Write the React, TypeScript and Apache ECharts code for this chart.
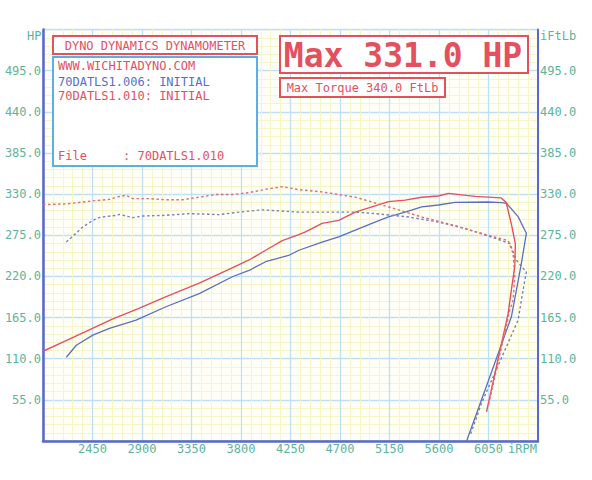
import React, { useEffect, useRef } from "react";
import * as echarts from "echarts";

// ---- Data (read from the dyno sheet) ----
const xTickLabels = ["2450", "2900", "3350", "3800", "4250", "4700", "5150", "5600", "6050"];
const yTickLabels = ["55.0", "110.0", "165.0", "220.0", "275.0", "330.0", "385.0", "440.0", "495.0"];

// Run 70DATLS1.010 (red) power, HP
const hpRedRpm = [2000, 2200, 2450, 2630, 2850, 3120, 3420, 3720, 3873, 4024, 4175, 4326, 4386, 4537, 4688, 4839, 4990, 5141, 5292, 5443, 5594, 5685, 5805, 5926, 6047, 6165, 6210, 6258, 6294, 6289, 6258, 6228, 6130, 6032];
const hpRedVal = [120, 133.5, 150.5, 163, 176, 193, 211, 231.5, 242, 255, 268, 276, 279.5, 291, 295, 306, 313, 320, 322, 325.8, 327.5, 331, 329, 327, 326, 325, 319, 290, 264, 233, 202, 170, 105, 39];

// Run 70DATLS1.006 (blue) power, HP
const hpBlueRpm = [2212, 2303, 2453, 2604, 2846, 3118, 3420, 3721, 3873, 4024, 4233, 4326, 4537, 4688, 4839, 4990, 5141, 5292, 5443, 5594, 5745, 6047, 6168, 6213, 6319, 6394, 6349, 6304, 6258, 6050, 5851];
const hpBlueVal = [112, 128, 141.5, 150.5, 161.5, 179.5, 197, 219.6, 228, 239.7, 248, 255, 266, 273, 282, 291, 299.5, 306, 313, 315.5, 319, 319.5, 318.6, 317.8, 300, 277.7, 237.6, 202, 166, 81, 0];

// Run 70DATLS1.010 (red) torque, FtLb
const tqRedRpm = [2000, 2212, 2453, 2604, 2665, 2755, 2815, 2967, 3118, 3269, 3420, 3571, 3721, 3873, 4024, 4175, 4326, 4537, 4839, 5141, 5443, 5745, 6047, 6228, 6273, 6289, 6273, 6244, 6047];
const tqRedVal = [316, 317, 321, 323, 326, 328.5, 324, 324, 322.5, 322.5, 326, 329.5, 329.5, 332, 336.5, 340, 336, 333, 326, 313, 299.5, 288, 275, 268, 251, 219, 188, 175, 46];

// Run 70DATLS1.006 (blue) torque, FtLb
const tqBlueRpm = [2212, 2362, 2453, 2514, 2665, 2695, 2815, 2906, 3118, 3329, 3601, 3782, 3990, 4326, 4840, 5021, 5322, 5594, 5836, 6077, 6244, 6304, 6394, 6364, 6319, 5987, 5884];
const tqBlueVal = [266, 286, 295, 299, 301.7, 303, 298.6, 300.8, 301.7, 304, 302.6, 306, 309, 306, 306, 304, 299.5, 292.8, 284, 272.7, 264, 241.6, 226, 201.6, 161.5, 50.7, 8];

const zip = (xs: number[], ys: number[]) => xs.map((x, i) => [x, ys[i]]);

const TEAL = "#5cb59b";
const RED = "#e4505e";
const BLUE = "#5a6fc4";
const AXIS = "#5a6acb";
const MONO = "'DejaVu Sans Mono', 'Liberation Mono', monospace";

export default function App() {
  const ref = useRef<HTMLDivElement>(null);
  useEffect(() => {
    if (!ref.current) return;
    const chart = echarts.init(ref.current, null, { renderer: "svg" });
    const yLabelFmt = (v: number) => {
      const s = v.toFixed(1);
      return yTickLabels.includes(s) ? s : "";
    };
    const xLabelFmt = (v: number) => {
      const s = String(Math.round(v));
      return xTickLabels.includes(s) ? s : "";
    };
    const minorLine = { show: true, lineStyle: { color: "#f6f5c6", width: 1 } };
    const Z = 100;
    chart.setOption({
      animation: false,
      backgroundColor: "#ffffff",
      grid: {
        left: 43,
        right: 54,
        top: 29.6,
        bottom: 39,
        show: true,
        borderColor: "#8fa0dd",
        borderWidth: 1,
        backgroundColor: "#fffff8",
      },
      xAxis: {
        type: "value",
        min: 2000,
        max: 6500,
        interval: 450,
        axisLine: { show: true, onZero: false, lineStyle: { color: AXIS, width: 2.5 } },
        axisTick: { show: false },
        minorTick: { show: false, splitNumber: 5 },
        minorSplitLine: minorLine,
        splitLine: { show: true, lineStyle: { color: "#bfe0f4", width: 1.3 } },
        axisLabel: {
          formatter: xLabelFmt,
          color: TEAL,
          fontFamily: MONO,
          fontSize: 12,
          margin: 2,
          showMinLabel: false,
          showMaxLabel: false,
        },
      },
      yAxis: [
        {
          type: "value",
          min: 0,
          max: 550,
          interval: 55,
          axisLine: { show: true, lineStyle: { color: AXIS, width: 2.5 } },
          axisTick: { show: false },
          minorTick: { show: false, splitNumber: 5 },
          minorSplitLine: minorLine,
          splitLine: { show: true, lineStyle: { color: "#bfe0f4", width: 1.3 } },
          axisLabel: {
            formatter: yLabelFmt,
            color: TEAL,
            fontFamily: MONO,
            fontSize: 12,
            margin: 2,
          },
        },
        {
          type: "value",
          position: "right",
          min: 0,
          max: 550,
          interval: 55,
          axisLine: { show: true, lineStyle: { color: AXIS, width: 2 } },
          axisTick: { show: false },
          splitLine: { show: false },
          axisLabel: {
            formatter: yLabelFmt,
            color: TEAL,
            fontFamily: MONO,
            fontSize: 12,
            margin: 2,
          },
        },
      ],
      series: [
        {
          name: "70DATLS1.006 HP",
          type: "line",
          data: zip(hpBlueRpm, hpBlueVal),
          showSymbol: false,
          symbol: "none",
          lineStyle: { color: BLUE, width: 1.3 },
        },
        {
          name: "70DATLS1.006 Torque",
          type: "line",
          yAxisIndex: 1,
          data: zip(tqBlueRpm, tqBlueVal),
          symbol: "none",
          lineStyle: { color: "#7481bb", width: 1.4, type: [2.5, 2.5] },
        },
        {
          name: "70DATLS1.010 HP",
          type: "line",
          data: zip(hpRedRpm, hpRedVal),
          symbol: "none",
          lineStyle: { color: RED, width: 1.4 },
        },
        {
          name: "70DATLS1.010 Torque",
          type: "line",
          yAxisIndex: 1,
          data: zip(tqRedRpm, tqRedVal),
          symbol: "none",
          lineStyle: { color: "#e26a74", width: 1.4, type: [2.5, 2.5] },
        },
      ],
      graphic: [
        { type: "text", z: Z, left: 27, top: 30, style: { text: "HP", fill: TEAL, font: `12px ${MONO}` } },
        { type: "text", z: Z, left: 540, top: 30, style: { text: "iFtLb", fill: TEAL, font: `12px ${MONO}` } },
        { type: "text", z: Z, left: 508, top: 443, style: { text: "iRPM", fill: TEAL, font: `12px ${MONO}` } },
        // Title box
        {
          type: "rect",
          z: Z,
          shape: { x: 53, y: 36, width: 204, height: 18 },
          style: { fill: "#ffffff", stroke: RED, lineWidth: 2 },
        },
        {
          type: "text",
          z: Z + 1,
          x: 155,
          y: 45.5,
          style: { text: "DYNO DYNAMICS DYNAMOMETER", fill: RED, font: `12px ${MONO}`, align: "center", verticalAlign: "middle" },
        },
        // Legend box
        {
          type: "rect",
          z: Z,
          shape: { x: 53, y: 57, width: 204, height: 109 },
          style: { fill: "#ffffff", stroke: "#5ab0e6", lineWidth: 2 },
        },
        { type: "text", z: Z + 1, x: 58, y: 66, style: { text: "WWW.WICHITADYNO.COM", fill: RED, font: `12px ${MONO}`, verticalAlign: "middle" } },
        { type: "text", z: Z + 1, x: 58, y: 82, style: { text: "70DATLS1.006: INITIAL", fill: BLUE, font: `12px ${MONO}`, verticalAlign: "middle" } },
        { type: "text", z: Z + 1, x: 58, y: 96, style: { text: "70DATLS1.010: INITIAL", fill: RED, font: `12px ${MONO}`, verticalAlign: "middle" } },
        { type: "text", z: Z + 1, x: 58, y: 156, style: { text: "File     : 70DATLS1.010", fill: RED, font: `12px ${MONO}`, verticalAlign: "middle" } },
        // Max HP box
        {
          type: "rect",
          z: Z,
          shape: { x: 280, y: 36, width: 248, height: 37 },
          style: { fill: "#ffffff", stroke: RED, lineWidth: 2 },
        },
        {
          type: "text",
          z: Z + 1,
          x: 403,
          y: 55,
          style: { text: "Max 331.0 HP", fill: RED, font: `bold 33px ${MONO}`, align: "center", verticalAlign: "middle" },
        },
        // Max torque box
        {
          type: "rect",
          z: Z,
          shape: { x: 280, y: 78, width: 165, height: 19 },
          style: { fill: "#ffffff", stroke: RED, lineWidth: 2 },
        },
        {
          type: "text",
          z: Z + 1,
          x: 362.5,
          y: 88,
          style: { text: "Max Torque 340.0 FtLb", fill: RED, font: `12px ${MONO}`, align: "center", verticalAlign: "middle" },
        },
      ],
    });
    return () => chart.dispose();
  }, []);
  return (
    <div
      ref={ref}
      style={{ position: "fixed", left: 0, top: 0, width: 592, height: 480, background: "#fff" }}
    />
  );
}
